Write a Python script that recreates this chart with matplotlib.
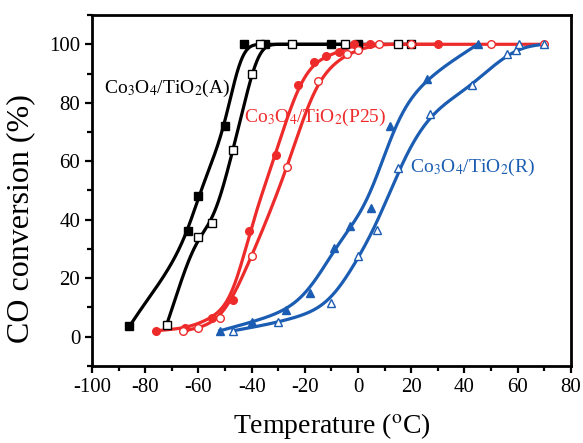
import numpy as np
import matplotlib
matplotlib.use('Agg')
import matplotlib.pyplot as plt

plt.rcParams['font.family'] = ['Liberation Serif', 'DejaVu Serif']
plt.rcParams['mathtext.fontset'] = 'stix'
plt.rcParams['axes.unicode_minus'] = False

# Co3O4/TiO2(A)
a_fill_t = [-86, -64, -60, -50, -43, -35, -10, 0]
a_fill_c = [3.5, 36, 48, 72, 100, 100, 100, 100]
a_open_t = [-72, -60, -55, -47, -40, -37, -25, -5, 15, 20]
a_open_c = [4, 34, 39, 64, 90, 100, 100, 100, 100, 100]

# Co3O4/TiO2(P25)
p_fill_t = [-76, -65, -55, -47, -41, -31, -22.6, -16.6, -12, -7, -1.6, 4.4, 30]
p_fill_c = [2, 3, 6.5, 12.5, 36, 62, 86, 94, 96, 97.3, 100, 100, 100]
p_open_t = [-66, -60, -52, -40, -26.6, -15, -4, 0, 8, 20, 50, 70]
p_open_c = [2, 2.8, 6.3, 27.7, 58, 87.6, 96.7, 98, 100, 100, 100, 100]

# Co3O4/TiO2(R)
r_fill_t = [-52, -40, -27, -18, -9, -3, 5, 12, 26, 45]
r_fill_c = [2, 5, 9, 15, 30.5, 38, 44, 72, 88, 100]
r_open_t = [-47, -30, -10, 0, 7, 15, 27, 43, 56, 59.5, 60.5, 70]
r_open_c = [2, 5, 11.6, 27.5, 36.5, 57.6, 76, 86, 96.7, 98, 100, 100]

RED = '#ee2b2b'
BLUE = '#1b5db2'


# монотонна кубічна інтерполяція (PCHIP)
def pchip(x, y, xs):
    x = np.asarray(x, float)
    y = np.asarray(y, float)
    h = np.diff(x)
    d = np.diff(y) / h
    n = len(x)
    m = np.zeros(n)
    for k in range(1, n - 1):
        if d[k - 1] * d[k] > 0:
            w1 = 2 * h[k] + h[k - 1]
            w2 = h[k] + 2 * h[k - 1]
            m[k] = (w1 + w2) / (w1 / d[k - 1] + w2 / d[k])
    m[0] = d[0]
    m[-1] = d[-1]
    idx = np.clip(np.searchsorted(x, xs) - 1, 0, n - 2)
    t = (xs - x[idx]) / h[idx]
    h00 = 2 * t**3 - 3 * t**2 + 1
    h10 = t**3 - 2 * t**2 + t
    h01 = -2 * t**3 + 3 * t**2
    h11 = t**3 - t**2
    return h00 * y[idx] + h10 * h[idx] * m[idx] + h01 * y[idx + 1] + h11 * h[idx] * m[idx + 1]


# згладжена лінія (як B-сплайн в оригіналі)
def smooth_line(t, c, sigma=4.0, n=600):
    xs = np.linspace(t[0], t[-1], n)
    ys = pchip(t, c, xs)
    dx = xs[1] - xs[0]
    k = int(3 * sigma / dx)
    left = 2 * ys[0] - ys[1:k + 1][::-1]
    right = 2 * ys[-1] - ys[-k - 1:-1][::-1]
    yp = np.concatenate([left, ys, right])
    g = np.exp(-0.5 * (np.arange(-k, k + 1) * dx / sigma) ** 2)
    g /= g.sum()
    ys = np.convolve(yp, g, mode='valid')
    return xs, np.minimum(ys, 100.3)


def draw(ax, t, c, color, marker, filled, sigma=4.0):
    xs, ys = smooth_line(t, c, sigma)
    ax.plot(xs, ys, color=color, lw=2.3, zorder=2)
    ax.plot(t, c, ls='none', marker=marker, ms=5.5,
            mfc=color if filled else 'white', mec=color, mew=1.0, zorder=3)


fig = plt.figure(figsize=(5.83, 4.43), dpi=100)
ax = fig.add_axes([0.158, 0.174, 0.821, 0.792])

draw(ax, a_fill_t, a_fill_c, 'black', 's', True, 3.0)
draw(ax, a_open_t, a_open_c, 'black', 's', False, 3.0)
draw(ax, p_fill_t, p_fill_c, RED, 'o', True)
draw(ax, p_open_t, p_open_c, RED, 'o', False)
draw(ax, r_fill_t, r_fill_c, BLUE, '^', True, 6.0)
draw(ax, r_open_t, r_open_c, BLUE, '^', False, 6.0)

ax.text(-72, 85, 'Co$_3$O$_4$/TiO$_2$(A)', color='black', fontsize=14, ha='center', va='center')
ax.text(-16, 75, 'Co$_3$O$_4$/TiO$_2$(P25)', color=RED, fontsize=14, ha='center', va='center')
ax.text(43, 58, 'Co$_3$O$_4$/TiO$_2$(R)', color=BLUE, fontsize=14, ha='center', va='center')

ax.set_xlim(-100, 80)
ax.set_ylim(-10, 110)
ax.set_xticks(np.arange(-100, 81, 20))
ax.set_xticks(np.arange(-90, 80, 20), minor=True)
ax.set_yticks(np.arange(0, 101, 20))
ax.set_yticks(np.arange(-10, 111, 20), minor=True)
ax.tick_params(which='major', direction='out', length=5, width=1.6, labelsize=15)
ax.tick_params(which='minor', direction='out', length=3.5, width=1.6)
for s in ax.spines.values():
    s.set_linewidth(2.0)

ax.set_xlabel('Temperature ($^{\\rm o}$C)', fontsize=20, labelpad=10)
ax.set_ylabel('CO conversion (%)', fontsize=23)
ax.yaxis.set_label_coords(-0.119, 0.419)

fig.savefig('out.png', dpi=100)
